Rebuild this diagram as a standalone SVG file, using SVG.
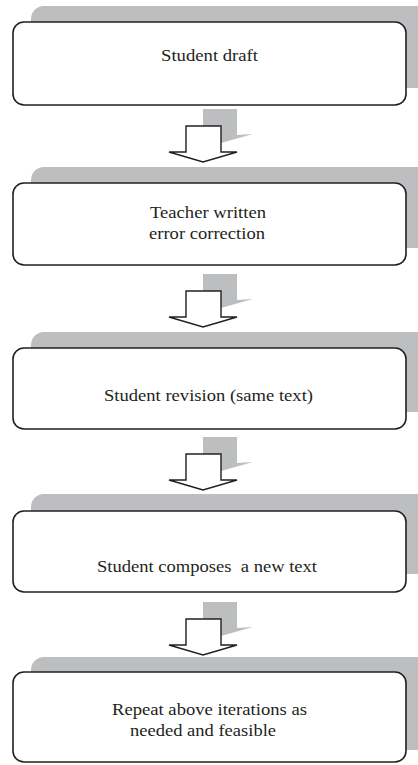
<svg xmlns="http://www.w3.org/2000/svg" width="418" height="765" viewBox="0 0 418 765">
<style>
.sh{fill:#bcbec0}
.box{fill:#fff;stroke:#231f20;stroke-width:1.6}
.arr{fill:#fff;stroke:#231f20;stroke-width:1.4;stroke-linejoin:miter}
.t{font-family:"Liberation Serif","Times New Roman",serif;font-size:17.5px;fill:#231f20;text-anchor:start;white-space:pre}
</style>
<defs>
<g id="arrowShape">
<polygon class="sh" points="203,-17 237,-17 237,9 253,8 221,17 203,17"/>
<polygon class="arr" points="186,0 221,0 221,26 237,26 203,36 169,26 186,26"/>
</g>
</defs>
<rect width="418" height="765" fill="#fff"/>
<g id="connectors">
<use href="#arrowShape" transform="translate(0,126)"/>
<use href="#arrowShape" transform="translate(0,291)"/>
<use href="#arrowShape" transform="translate(0,454)"/>
<use href="#arrowShape" transform="translate(0,619)"/>
</g>
<g id="node1">
<rect class="sh" x="31" y="6" width="400" height="82" rx="13"/>
<rect class="box" x="13" y="22" width="393" height="83" rx="11"/>
<text class="t" x="161" y="61" textLength="97" lengthAdjust="spacingAndGlyphs">Student draft</text>
</g>
<g id="node2">
<rect class="sh" x="31" y="167" width="400" height="81" rx="13"/>
<rect class="box" x="13" y="183" width="393" height="82" rx="11"/>
<text class="t" x="150" y="218" textLength="116" lengthAdjust="spacingAndGlyphs">Teacher written</text>
<text class="t" x="149" y="239" textLength="116" lengthAdjust="spacingAndGlyphs">error correction</text>
</g>
<g id="node3">
<rect class="sh" x="31" y="332" width="400" height="80" rx="13"/>
<rect class="box" x="13" y="348" width="393" height="81" rx="11"/>
<text class="t" x="104" y="401" textLength="209" lengthAdjust="spacingAndGlyphs">Student revision (same text)</text>
</g>
<g id="node4">
<rect class="sh" x="31" y="494" width="400" height="80" rx="13"/>
<rect class="box" x="13" y="511" width="393" height="81" rx="11"/>
<text class="t" x="97" y="572" textLength="220" lengthAdjust="spacingAndGlyphs">Student composes  a new text</text>
</g>
<g id="node5">
<rect class="sh" x="31" y="657" width="400" height="93" rx="13"/>
<rect class="box" x="13" y="672" width="393" height="90" rx="11"/>
<text class="t" x="112" y="715" textLength="195" lengthAdjust="spacingAndGlyphs">Repeat above iterations as</text>
<text class="t" x="130" y="736" textLength="146" lengthAdjust="spacingAndGlyphs">needed and feasible</text>
</g>
</svg>
